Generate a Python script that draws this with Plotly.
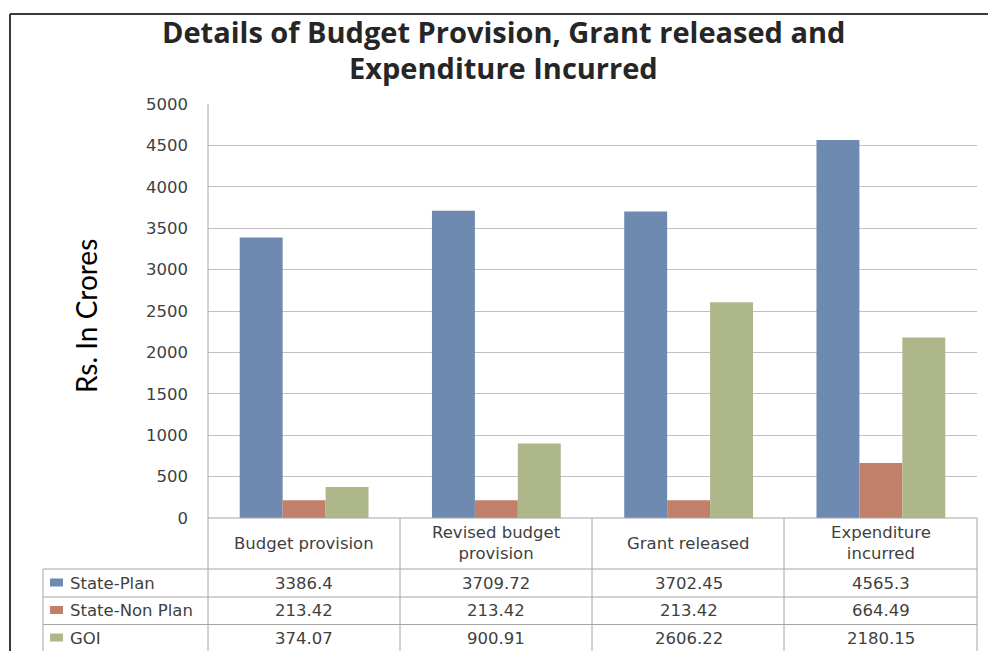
import plotly.graph_objects as go

categories = ["Budget provision", "Revised budget provision", "Grant released", "Expenditure incurred"]
header_labels = ["Budget provision", "Revised budget<br>provision", "Grant released", "Expenditure<br>incurred"]
series_names = ["State-Plan", "State-Non Plan", "GOI"]
state_plan = [3386.4, 3709.72, 3702.45, 4565.3]
state_non_plan = [213.42, 213.42, 213.42, 664.49]
goi = [374.07, 900.91, 2606.22, 2180.15]
table_text = [["3386.4", "3709.72", "3702.45", "4565.3"],
              ["213.42", "213.42", "213.42", "664.49"],
              ["374.07", "900.91", "2606.22", "2180.15"]]
colors = ["#6F8AB0", "#C0806A", "#ADB78A"]
y_ticks = list(range(0, 5001, 500))

W_FIG, H_FIG = 988, 651
L, R, T, B = 208, 977, 104, 518


def px(x):
    return (x - L) / (R - L)


def py(y):
    return (B - y) / (B - T)


fig = go.Figure()
for name, vals, col in zip(series_names, [state_plan, state_non_plan, goi], colors):
    fig.add_trace(go.Bar(name=name, x=categories, y=vals, marker_color=col,
                         marker_line_width=0, showlegend=False, hoverinfo="skip"))

GRID = "#C0C0C0"
TLINE = "#A6A6A6"
TXT = "#3F3F3F"
FS = 16.5
shapes = []
# outer frame (left + top)
shapes.append(dict(type="line", xref="paper", yref="paper", x0=px(10), x1=px(990), y0=py(14), y1=py(14),
                   line=dict(color="#3A3A3A", width=2)))
shapes.append(dict(type="line", xref="paper", yref="paper", x0=px(10), x1=px(10), y0=py(14), y1=py(660),
                   line=dict(color="#3A3A3A", width=2)))
# y axis line extended into table
shapes.append(dict(type="line", xref="paper", yref="paper", x0=0, x1=0, y0=1, y1=py(660),
                   line=dict(color=TLINE, width=1)))
# table vertical lines
for xv in [400, 592, 784, 977]:
    shapes.append(dict(type="line", xref="paper", yref="paper", x0=px(xv), x1=px(xv), y0=0, y1=py(660),
                       line=dict(color=TLINE, width=1)))
shapes.append(dict(type="line", xref="paper", yref="paper", x0=px(43), x1=px(43), y0=py(569), y1=py(660),
                   line=dict(color=TLINE, width=1)))
# table horizontal lines
shapes.append(dict(type="line", xref="paper", yref="paper", x0=0, x1=1, y0=0, y1=0,
                   line=dict(color=TLINE, width=1)))
for yv in [569, 597, 624.5]:
    shapes.append(dict(type="line", xref="paper", yref="paper", x0=px(43), x1=1, y0=py(yv), y1=py(yv),
                       line=dict(color=TLINE, width=1)))

row_centers = [583, 610.5, 638]
annotations = []
for name, col, yc in zip(series_names, colors, row_centers):
    shapes.append(dict(type="rect", xref="paper", yref="paper", x0=px(50), x1=px(63),
                       y0=py(yc - 4.5), y1=py(yc + 3.5), fillcolor=col, line=dict(width=0)))
    annotations.append(dict(text=name, xref="paper", yref="paper", x=px(68), y=py(yc),
                            xanchor="left", yanchor="middle", showarrow=False,
                            font=dict(family="DejaVu Sans", size=FS, color=TXT)))

for cat, lab in zip(categories, header_labels):
    annotations.append(dict(text=lab, xref="x", yref="paper", x=cat, y=py(543),
                            xanchor="center", yanchor="middle", showarrow=False,
                            font=dict(family="DejaVu Sans", size=FS, color=TXT)))
for row, yc in zip(table_text, row_centers):
    for cat, t in zip(categories, row):
        annotations.append(dict(text=t, xref="x", yref="paper", x=cat, y=py(yc),
                                xanchor="center", yanchor="middle", showarrow=False,
                                font=dict(family="DejaVu Sans", size=FS, color=TXT)))

# title lines
TITLE_FONT = dict(family="Open Sans", size=29, color="#262626")
annotations.append(dict(text="<b>Details of Budget Provision, Grant released and</b>", xref="paper", yref="paper",
                        x=px(503), y=py(32), xanchor="center", yanchor="middle", showarrow=False,
                        font=TITLE_FONT))
annotations.append(dict(text="<b>Expenditure Incurred</b>", xref="paper", yref="paper",
                        x=px(503), y=py(67), xanchor="center", yanchor="middle", showarrow=False,
                        font=TITLE_FONT))
# y axis title
annotations.append(dict(text="Rs. In Crores", xref="paper", yref="paper", x=px(86), y=py(316),
                        xanchor="center", yanchor="middle", textangle=-90, showarrow=False,
                        font=dict(family="Lato", size=28, color="#000000")))

fig.update_layout(
    width=W_FIG, height=H_FIG,
    margin=dict(l=L, r=W_FIG - R, t=T, b=H_FIG - B),
    paper_bgcolor="white", plot_bgcolor="white",
    barmode="group", bargap=0.33, bargroupgap=0,
    shapes=shapes, annotations=annotations,
    xaxis=dict(showticklabels=False, showgrid=False, zeroline=False, showline=False, ticks=""),
    yaxis=dict(range=[0, 5000], tickvals=y_ticks, showgrid=True, gridcolor=GRID, gridwidth=1,
               zeroline=False, showline=False, ticks="", ticklabelstandoff=19,
               tickfont=dict(family="DejaVu Sans", size=FS, color=TXT)),
)

fig.write_html("out.html", config={"displayModeBar": False},
               post_script="document.body.style.margin='0';document.body.style.overflow='hidden';"
                           "document.documentElement.style.overflow='hidden';")
